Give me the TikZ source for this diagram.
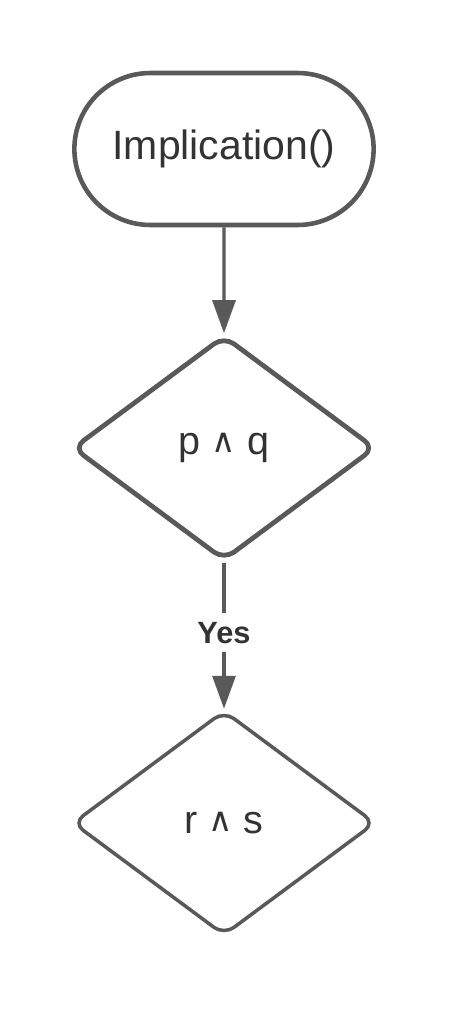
\documentclass[tikz,border=0pt]{standalone}
\usepackage{fontspec}
\setmainfont{Liberation Sans}
\newfontfamily\symfont{DejaVu Sans}
\usetikzlibrary{shapes.geometric, shapes.misc, arrows.meta}
\definecolor{edgegray}{HTML}{595959}
\definecolor{textgray}{HTML}{333333}
\tikzset{
  terminal/.style={draw=edgegray, line width=2.6pt, rounded rectangle, minimum width=6.22cm, minimum height=3.04cm, text=textgray, font=\fontsize{23.3}{27}\selectfont},
  decision/.style={draw=edgegray, diamond, rounded corners=7pt, minimum width=6.06cm, minimum height=4.5cm, inner sep=0pt, text=textgray, font=\fontsize{22.5}{26}\selectfont},
  flow/.style={draw=edgegray, line width=1.8pt, -{Triangle[length=0.66cm, width=0.46cm]}},
  flowlabel/.style={fill=white, inner sep=5pt, text=textgray, font=\bfseries\fontsize{17.5}{21}\selectfont}
}
\newcommand{\andsym}{{\symfont\fontsize{19}{22}\selectfont\raisebox{0.1ex}{∧}}}
\begin{document}
\begin{tikzpicture}[x=0.02cm, y=-0.02cm]
            \useasboundingbox (0, 0) rectangle (450, 1013);

            % Start of the flow
            \node[terminal] (start) at (224, 149) {Implication()};

            % Conditions
            \node[decision, line width=2.7pt] (pq) at (224, 448) {p \andsym{} q};
            \node[decision, line width=2pt] (rs) at (224, 823) {r \andsym{} s};

            % Connections
            \draw[flow] (start) -- (pq);
            \draw[flow, line width=1.8pt] (pq) -- node[flowlabel, pos=0.48] (yes) {Yes} (rs);
        \end{tikzpicture}
\end{document}
